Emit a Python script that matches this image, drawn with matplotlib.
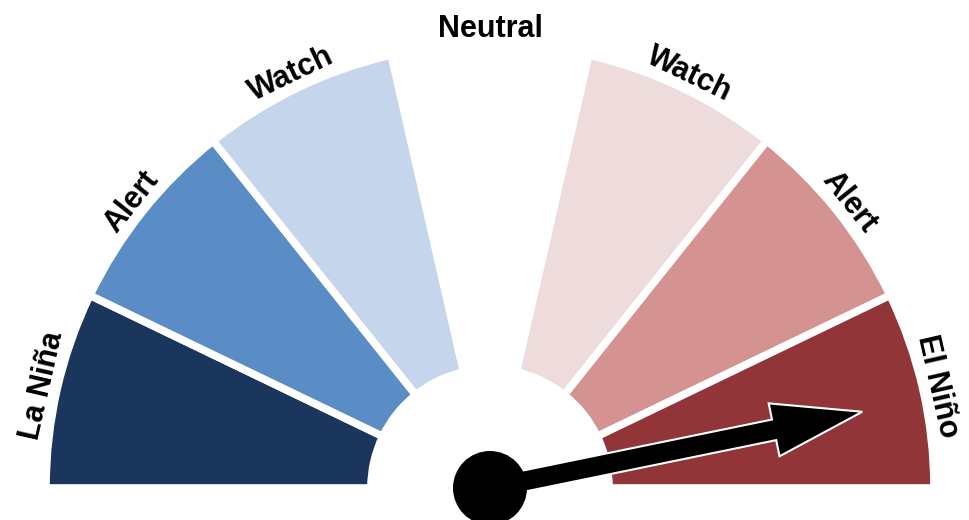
#!/usr/bin/env python3
"""ENSO status gauge: seven equal sectors with a needle."""
import numpy as np
import matplotlib.pyplot as plt
from matplotlib.patches import Wedge, Circle, FancyArrow

labels = ["La Niña", "Alert", "Watch", "Neutral", "Watch", "Alert", "El Niño"]
colors = ["#1b365d", "#5a8dc6", "#c5d5ec", None, "#eedcdd", "#d49391", "#923538"]
needle_value = 6.55  # position on 0..7 scale, left to right

r_out, r_in = 444, 119
n = len(labels)
step = 180.0 / n

fig = plt.figure(figsize=(9.7, 5.2), dpi=100)
ax = fig.add_axes([0, 0, 1, 1])
ax.set_xlim(-490, 480)
ax.set_ylim(-32, 488)
ax.set_aspect("equal")
ax.axis("off")

for i, (lab, col) in enumerate(zip(labels, colors)):
    a1 = 180 - (i + 1) * step
    a2 = 180 - i * step
    if col is not None:
        ax.add_patch(Wedge((0, 0), r_out, a1, a2, width=r_out - r_in,
                           facecolor=col, edgecolor="white", linewidth=5.5))
    mid = np.deg2rad((a1 + a2) / 2)
    ax.text(459 * np.cos(mid), 459 * np.sin(mid), lab, rotation=np.rad2deg(mid) - 90,
            ha="center", va="center", fontsize=22, fontweight="bold",
            family=["Liberation Sans", "DejaVu Sans"])

ang = np.deg2rad(180 - needle_value * step)
L = 380
ax.add_patch(FancyArrow(0, 0, L * np.cos(ang), L * np.sin(ang), width=21,
                        head_width=54, head_length=90, length_includes_head=True,
                        facecolor="black", edgecolor="white", linewidth=1.5, zorder=3))
ax.add_patch(Circle((0, 0), 37, facecolor="black", edgecolor="none", zorder=4))

fig.savefig("out.png", dpi=100)
